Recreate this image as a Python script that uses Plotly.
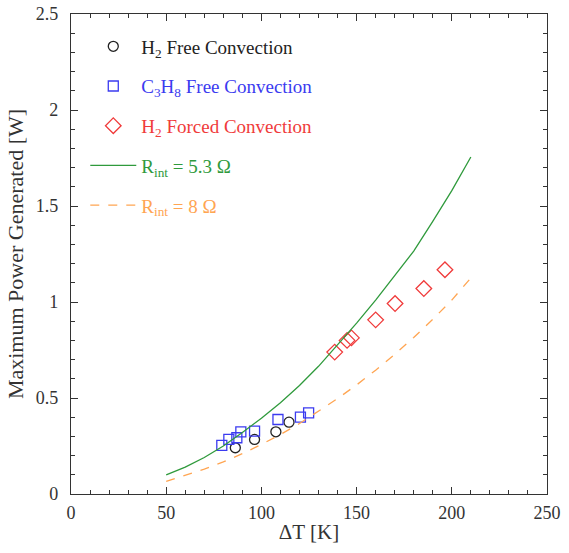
import plotly.graph_objects as go

# Data
h2_free_dt = [86.3, 96.4, 107.6, 114.5]
h2_free_p = [0.241, 0.284, 0.324, 0.374]

c3h8_free_dt = [79.2, 82.9, 87.1, 89.2, 96.4, 108.7, 120.5, 124.8]
c3h8_free_p = [0.253, 0.284, 0.293, 0.324, 0.327, 0.388, 0.400, 0.423]

h2_forced_dt = [138.5, 145.0, 147.3, 160.0, 170.2, 185.3, 196.4]
h2_forced_p = [0.739, 0.800, 0.813, 0.907, 0.992, 1.070, 1.168]

model_dt = [50, 60, 70, 80, 90, 100, 110, 120, 130, 140, 150, 160, 170, 180, 190, 200, 210]
r53_p = [0.10, 0.14, 0.19, 0.25, 0.32, 0.395, 0.475, 0.565, 0.665, 0.775, 0.89, 1.01, 1.135, 1.265, 1.42, 1.58, 1.755]
r8_p = [0.066, 0.097, 0.13, 0.167, 0.21, 0.258, 0.31, 0.367, 0.43, 0.497, 0.568, 0.645, 0.727, 0.815, 0.91, 1.01, 1.125]

FONT = "Liberation Serif"
BLACK = "#333333"
BLUE = "#3b3bf0"
RED = "#f03b3b"
GREEN = "#2f9a3c"
ORANGE = "#ffa552"

fig = go.Figure()
fig.add_trace(go.Scatter(
    x=h2_free_dt, y=h2_free_p, mode="markers",
    name="<span style='color:#222'>H<sub>2</sub> Free Convection</span>",
    marker=dict(symbol="circle-open", size=10, color="#222222", line=dict(width=1.3, color="#222222")),
    legendgroup="a"))
fig.add_trace(go.Scatter(
    x=c3h8_free_dt, y=c3h8_free_p, mode="markers",
    name=f"<span style='color:{BLUE}'>C<sub>3</sub>H<sub>8</sub> Free Convection</span>",
    marker=dict(symbol="square-open", size=10, color=BLUE, line=dict(width=1.3, color=BLUE)),
    legendgroup="b"))
fig.add_trace(go.Scatter(
    x=h2_forced_dt, y=h2_forced_p, mode="markers",
    name=f"<span style='color:{RED}'>H<sub>2</sub> Forced Convection</span>",
    marker=dict(symbol="diamond-open", size=12, color=RED, line=dict(width=1.3, color=RED)),
    legendgroup="c"))
fig.add_trace(go.Scatter(
    x=model_dt, y=r53_p, mode="lines",
    name=f"<span style='color:{GREEN}'>R<sub>int</sub> = 5.3 Ω</span>",
    line=dict(color=GREEN, width=1.3),
    legendgroup="d"))
fig.add_trace(go.Scatter(
    x=model_dt, y=r8_p, mode="lines",
    name=f"<span style='color:{ORANGE}'>R<sub>int</sub> = 8 Ω</span>",
    line=dict(color=ORANGE, width=1.3, dash="dash"),
    legendgroup="e"))

axis_common = dict(
    showline=True, linecolor=BLACK, linewidth=1.3, mirror="allticks",
    ticks="inside", ticklen=7, tickwidth=1.2, tickcolor=BLACK,
    showgrid=False, zeroline=False, automargin=False,
    tickfont=dict(family=FONT, size=18, color=BLACK),
)

fig.update_xaxes(
    range=[0, 250], tick0=0, dtick=50,
    minor=dict(ticks="inside", ticklen=4, dtick=10, tickcolor=BLACK, tickwidth=1),
    title=dict(text="ΔT [K]", font=dict(family=FONT, size=21, color=BLACK), standoff=2),
    ticklabelstandoff=2,
    **axis_common)
fig.update_yaxes(
    range=[0, 2.5], tick0=0, dtick=0.5,
    minor=dict(ticks="inside", ticklen=4, dtick=0.1, tickcolor=BLACK, tickwidth=1),
    title=dict(text="Maximum Power Generated [W]", font=dict(family=FONT, size=22, color=BLACK), standoff=6),
    ticklabelstandoff=8,
    **axis_common)

fig.update_layout(
    width=569, height=553,
    margin=dict(l=71, r=22, t=14, b=59),
    paper_bgcolor="white", plot_bgcolor="white",
    font=dict(family=FONT, size=19, color=BLACK),
    legend=dict(x=0.03, y=0.972, xanchor="left", yanchor="top",
                bgcolor="rgba(0,0,0,0)", tracegroupgap=12, itemwidth=46,
                font=dict(family=FONT, size=19)),
)

fig.write_html("out.html")
